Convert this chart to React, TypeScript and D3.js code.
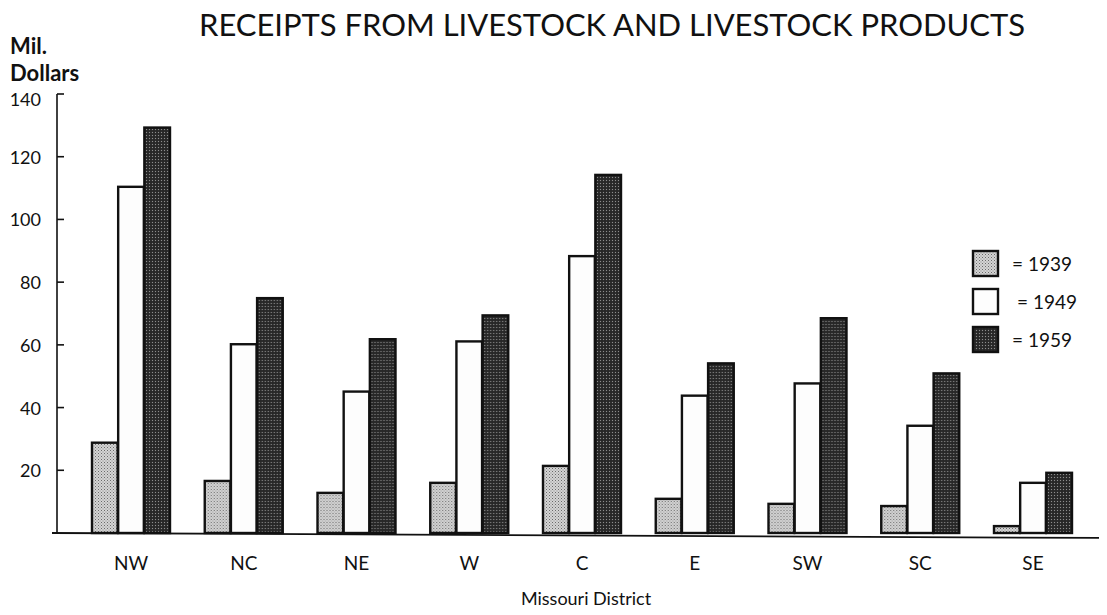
import * as React from 'react';
import * as d3 from 'd3';

const districts = ['NW', 'NC', 'NE', 'W', 'C', 'E', 'SW', 'SC', 'SE'];
const years = ['1939', '1949', '1959'];
const receipts1939 = [28.8, 16.6, 12.8, 16.0, 21.4, 10.9, 9.3, 8.6, 2.2];
const receipts1949 = [110.4, 60.2, 45.1, 61.1, 88.3, 43.8, 47.7, 34.2, 16.0];
const receipts1959 = [129.3, 74.9, 61.8, 69.4, 114.2, 54.1, 68.5, 50.9, 19.2];
const yTicks = [20, 40, 60, 80, 100, 120, 140];

const width = 1107;
const height = 615;
const font = 'Lato, "DejaVu Sans", sans-serif';

export default function App() {
  const series = [receipts1939, receipts1949, receipts1959];
  const fills = ['url(#light)', '#fdfdfd', 'url(#dark)'];

  const y = d3.scaleLinear().domain([0, 140]).range([533, 94]);
  const x = d3.scalePoint<string>().domain(districts).range([131, 1033]);
  const inner = d3.scaleBand<string>().domain(years).range([-39, 39]).paddingInner(0.02);

  return (
    <div style={{ margin: -8 }}>
      <svg width={width} height={height} style={{ display: 'block', background: '#fff' }}>
        <defs>
          <pattern id="light" width="3" height="3" patternUnits="userSpaceOnUse">
            <rect width="3" height="3" fill="#d4d4d4" />
            <rect x="0" y="0" width="1" height="1" fill="#6a6a6a" />
            <rect x="1.5" y="1.5" width="1" height="1" fill="#8a8a8a" />
          </pattern>
          <pattern id="dark" width="3" height="3" patternUnits="userSpaceOnUse">
            <rect width="3" height="3" fill="#2e2e2e" />
            <rect x="0" y="0" width="1" height="1" fill="#8c8c8c" />
            <rect x="1.5" y="1.5" width="1" height="1" fill="#111" />
          </pattern>
        </defs>

        <text x={612} y={36} textAnchor="middle" fontFamily={font} fontSize={31}
          textLength={826} lengthAdjust="spacingAndGlyphs" fill="#111">
          RECEIPTS FROM LIVESTOCK AND LIVESTOCK PRODUCTS
        </text>

        <text x={10} y={54} fontFamily={font} fontSize={22} fontWeight="bold" fill="#111">Mil.</text>
        <text x={10} y={81} fontFamily={font} fontSize={22} fontWeight="bold" fill="#111">Dollars</text>

        {/* y axis */}
        <line x1={57} x2={57} y1={y(140)} y2={y(0) + 1} stroke="#111" strokeWidth={1.6} />
        {yTicks.map((t) => (
          <g key={t}>
            <line x1={57} x2={64} y1={y(t)} y2={y(t)} stroke="#111" strokeWidth={1.6} />
            <text x={41} y={t === 140 ? y(t) + 12 : y(t) + 7} textAnchor="end" fontFamily={font}
              fontSize={18} fill="#111">{t}</text>
          </g>
        ))}

        {/* bars */}
        {districts.map((d, i) => (
          <g key={d} transform={`translate(${x(d)},0)`}>
            {years.map((yr, j) => (
              <rect key={yr} x={inner(yr)} y={y(series[j][i])} width={inner.bandwidth()}
                height={y(0) - y(series[j][i])} fill={fills[j]} stroke="#111" strokeWidth={2.4} />
            ))}
            <text x={0} y={570} textAnchor="middle" fontFamily={font} fontSize={19} fill="#111">{d}</text>
          </g>
        ))}

        {/* baseline */}
        <line x1={52} x2={1107} y1={y(0)} y2={y(0) + 5} stroke="#111" strokeWidth={1.8} />

        <text x={586} y={605} textAnchor="middle" fontFamily={font} fontSize={18} fill="#111">Missouri District</text>

        {/* legend */}
        {years.map((yr, j) => (
          <g key={yr} transform={`translate(973,${251 + j * 38})`}>
            <rect width={25} height={25} fill={fills[j]} stroke="#111" strokeWidth={2.4} />
            <text x={j === 1 ? 44 : 39} y={20} fontFamily={font} fontSize={19} fill="#111">= {yr}</text>
          </g>
        ))}
      </svg>
    </div>
  );
}
